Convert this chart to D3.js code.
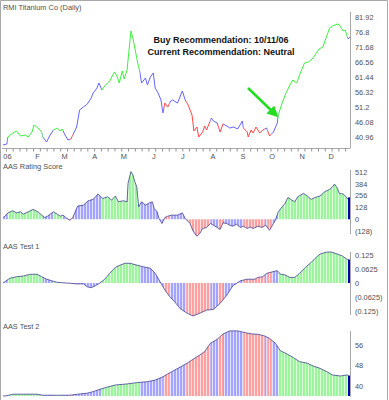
<!DOCTYPE html>
<html>
<head>
<meta charset="utf-8">
<script src="https://cdn.jsdelivr.net/npm/d3@7"></script>
<style>
body { margin: 0; background: #fff; }
svg  { display: block; font-family: "Liberation Sans", Arial, sans-serif; }
</style>
</head>
<body>
<div id="chart"></div>
<script>
////////////////////////////////////////////////////////////////////////
//
// data -- days are counted from Jan 1 2006
//
////////////////////////////////////////////////////////////////////////
var priceDays = [-2, 2, 3, 8, 12, 16, 21, 24, 28, 30, 34, 38, 39, 43, 46, 50, 54, 57, 59, 62,
                 65, 68, 70, 74, 77, 81, 85, 89, 91, 95, 97, 100, 103, 108, 113, 116, 118, 121, 123, 126,
                 127, 130, 132, 135, 137, 139, 141, 145, 147, 150, 153, 155, 158, 161, 163, 165, 168, 171, 173, 178,
                 183, 186, 189, 193, 195, 198, 200, 204, 206, 208, 213, 215, 219, 222, 225, 229, 232, 236, 240, 245,
                 246, 250, 251, 254, 256, 259, 263, 266, 270, 273, 277, 281, 282, 286, 290, 294, 297, 301, 304, 309,
                 313, 317, 320, 324, 328, 332, 335, 338, 343, 345, 349, 351, 354, 356];
var priceVals = [38.23, 38.57, 40.96, 42.33, 43.01, 41.30, 41.64, 40.96, 42.67, 45.06, 44.03, 42.67, 40.96, 39.25, 41.30, 43.35, 44.03, 43.01, 43.69, 41.64,
                 39.94, 40.28, 41.64, 44.37, 50.18, 51.20, 52.22, 54.27, 55.98, 57.68, 59.39, 57.00, 58.37, 60.07, 63.15, 61.44, 59.39, 63.49, 60.76, 63.83,
                 67.24, 77.14, 74.75, 69.63, 66.22, 63.49, 59.39, 61.10, 58.71, 61.44, 62.80, 57.68, 55.98, 53.59, 49.15, 52.56, 51.20, 53.25, 53.59, 52.56,
                 56.66, 53.59, 51.88, 48.47, 43.01, 44.37, 40.96, 42.67, 44.71, 43.35, 47.44, 46.42, 45.74, 42.67, 45.40, 44.71, 44.03, 44.37, 43.69, 46.42,
                 44.03, 42.67, 40.96, 43.35, 42.33, 44.37, 42.33, 43.35, 44.03, 41.30, 42.67, 45.74, 48.47, 52.56, 55.98, 58.71, 60.42, 59.39, 62.12, 66.22,
                 66.56, 67.58, 68.95, 71.00, 71.68, 75.43, 78.16, 78.85, 79.53, 79.19, 77.14, 77.48, 74.41, 75.09];

var rateDays = [-2, 0, 3, 8, 12, 16, 19, 24, 29, 34, 38, 41, 44, 50, 54, 57, 60, 64, 67, 70,
                75, 81, 86, 91, 96, 101, 106, 110, 114, 117, 122, 126, 127, 130, 132, 134, 136, 138, 141, 145,
                148, 152, 154, 157, 159, 162, 165, 168, 172, 178, 183, 186, 191, 194, 198, 201, 204, 208, 212, 215,
                219, 222, 225, 229, 232, 235, 239, 243, 246, 250, 253, 256, 261, 265, 269, 273, 277, 279, 282, 286,
                289, 292, 296, 299, 302, 308, 312, 316, 320, 325, 330, 335, 338, 340, 343, 345, 349, 352, 354, 356];
var rateVals = [18, 33, 69, 91, 69, 80, 55, 80, 106, 80, 44, 18, 33, 80, 55, 33, 44, 8, -11, 18,
                142, 153, 200, 215, 273, 225, 243, 207, 251, 189, 200, 189, 389, 516, 480, 407, 352, 134, 189, 153,
                171, 189, 117, 80, 8, -47, 18, 33, 44, 44, 69, 8, -47, -127, -185, -156, -101, -90, -47, -65,
                -90, -112, -40, -47, -65, -76, -55, -90, -76, -101, -84, -101, -76, -90, -65, -120, -47, -11, 80, 134,
                171, 236, 207, 189, 243, 280, 251, 215, 236, 251, 298, 324, 352, 381, 335, 280, 273, 243, 215, 236];

var test1Days = [-2, 0, 5, 12, 19, 26, 33, 38, 43, 49, 54, 60, 67, 74, 81, 85, 89, 93, 98, 103,
                 108, 114, 119, 124, 129, 136, 142, 150, 155, 160, 165, 170, 175, 181, 188, 194, 201, 208, 215, 222,
                 229, 235, 243, 250, 258, 261, 266, 270, 276, 281, 284, 289, 294, 299, 304, 310, 315, 320, 325, 332,
                 337, 343, 348, 353, 356];
var test1Vals = [0, 0.006, 0.021, 0.028, 0.031, 0.039, 0.039, 0.028, 0.017, 0.009, 0.003, 0.001, -0.001, -0.004, -0.004, -0.017, -0.021, -0.013, 0, 0.017,
                 0.043, 0.070, 0.080, 0.088, 0.088, 0.080, 0.073, 0.066, 0.043, 0.006, -0.031, -0.061, -0.083, -0.115, -0.135, -0.147, -0.135, -0.121, -0.118, -0.091,
                 -0.054, -0.013, 0.010, 0.017, 0.017, 0.025, 0.028, 0.043, 0.050, 0.055, 0.040, 0.036, 0.025, 0.025, 0.043, 0.070, 0.088, 0.110, 0.129, 0.138,
                 0.138, 0.129, 0.121, 0.106, 0.103];

var test2Days = [-2, 2, 8, 19, 33, 39, 54, 67, 75, 85, 91, 98, 105, 114, 126, 136, 147, 155, 163, 172,
                 181, 188, 194, 201, 206, 212, 219, 225, 232, 240, 248, 255, 261, 268, 273, 279, 284, 291, 297, 304,
                 312, 318, 325, 332, 338, 346, 353, 356];
var test2Vals = [36.1, 36.2, 36.8, 36.8, 36.8, 36.4, 36.4, 36.4, 36.8, 37.2, 37.8, 38.7, 39.5, 40.4, 40.8, 41.3, 41.7, 42.3, 43.6, 45.6,
                 47.4, 48.9, 50.4, 52.1, 53.4, 56.7, 58.2, 60.3, 61.5, 61.5, 60.8, 60.3, 60.2, 59.5, 58.6, 56.7, 53.8, 52.5, 51.2, 49.5,
                 48.9, 47.8, 46.9, 45.6, 44.3, 43.9, 44.3, 43.9];

// recommendation state: G = buy, B = neutral, R = sell
var signalDays = [-2, 3, 39, 50, 60, 66, 70, 100, 139, 163, 170, 187, 212, 220, 225, 246, 268, 271, 275, 282, 354];
var signalKeys = ["B", "G", "B", "G", "B", "R", "B", "G", "B", "R", "B", "R", "B", "R", "B", "R", "B", "R", "B", "G", "B"];

var priceTicks  = [81.92, 76.8, 71.68, 66.56, 61.44, 56.32, 51.2, 46.08, 40.96];
var priceLabels = ["81.92", "76.8", "71.68", "66.56", "61.44", "56.32", "51.2", "46.08", "40.96"];
var rateTicks   = [512, 384, 256, 128, 0, -128];
var rateLabels  = ["512", "384", "256", "128", "0", "(128)"];
var test1Ticks  = [0.125, 0.0625, 0, -0.0625, -0.125];
var test1Labels = ["0.125", "0.0625", "0", "(0.0625)", "(0.125)"];
var test2Ticks  = [56, 48, 40];
var test2Labels = ["56", "48", "40"];

var lineColor = {G: "#3cf03c", B: "#6464ff", R: "#ff4646"};
var barColor  = {G: "#9cf49c", B: "#a4a4ff", R: "#ffa0a0"};
var gapColor  = {G: "#dcfcdc", B: "#e0e0ff", R: "#ffe0e0"};


////////////////////////////////////////////////////////////////////////
//
// helpers
//
////////////////////////////////////////////////////////////////////////
var jan1 = new Date(2006, 0, 1);
function toDate(d)
    {
    return d3.timeDay.offset(jan1, d);
    }

function zip(days, vals)
    {
    return days.map(function(d, i) { return {date: toDate(d), v: vals[i]}; });
    }

var W = 389, H = 400;
var svg = d3.select("#chart").append("svg").attr("width", W).attr("height", H);

var x = d3.scaleTime()
    .domain([new Date(2005, 11, 30), new Date(2006, 11, 23)])
    .range([3, 350]);

var defs = svg.append("defs");

//stripes for the bars
Object.keys(barColor).forEach(function(k)
    {
    var p = defs.append("pattern")
        .attr("id", "pat" + k)
        .attr("patternUnits", "userSpaceOnUse")
        .attr("width", 3).attr("height", 10);
    p.append("rect").attr("width", 3).attr("height", 10).attr("fill", gapColor[k]);
    p.append("rect").attr("width", 2).attr("height", 10).attr("fill", barColor[k]);
    });

//one clip per recommendation segment
signalDays.forEach(function(d, i)
    {
    var x0 = i === 0 ? 0 : x(toDate(d));
    var x1 = i === signalDays.length - 1 ? W : x(toDate(signalDays[i + 1]));
    defs.append("clipPath").attr("id", "seg" + i)
        .append("rect").attr("x", x0).attr("y", 0).attr("width", x1 - x0).attr("height", H);
    });

function rightAxis(scale, ticks, labels, top, bottom)
    {
    svg.append("line")
        .attr("x1", 350.5).attr("x2", 350.5).attr("y1", top).attr("y2", bottom)
        .attr("stroke", "#a8a8a8");

    var g = svg.append("g")
        .attr("transform", "translate(351,0)")
        .call(d3.axisRight(scale).tickValues(ticks).tickSize(0).tickPadding(4)
            .tickFormat(function(d, i) { return labels[i]; }));
    g.select(".domain").remove();
    g.selectAll("text").attr("fill", "#505050").style("font-size", "7.4px").style("font-family", "Liberation Sans, Arial, sans-serif");
    }

function label(txt, y)
    {
    svg.append("text").attr("x", 3).attr("y", y).attr("dy", "0.35em")
        .attr("fill", "#505050").style("font-size", "7.4px").text(txt);
    }

function drawIndicator(data, y, baseY, ticks, labels, top, bottom, title, titleY)
    {
    var area = d3.area()
        .x(function(d) { return x(d.date); })
        .y0(baseY)
        .y1(function(d) { return y(d.v); });

    signalKeys.forEach(function(k, i)
        {
        svg.append("path")
            .datum(data)
            .attr("d", area)
            .attr("fill", "url(#pat" + k + ")")
            .attr("clip-path", "url(#seg" + i + ")");
        });

    svg.append("path")
        .datum(data)
        .attr("d", d3.line().x(function(d) { return x(d.date); }).y(function(d) { return y(d.v); }))
        .attr("fill", "none")
        .attr("stroke", "#3a3a8c")
        .attr("stroke-opacity", 0.85)
        .attr("stroke-width", 0.9);

    //last bar shown dark
    var last = data[data.length - 1];
    svg.append("line")
        .attr("x1", x(last.date) - 1).attr("x2", x(last.date) - 1)
        .attr("y1", baseY).attr("y2", y(last.v))
        .attr("stroke", "#0000b0").attr("stroke-width", 2);

    rightAxis(y, ticks, labels, top, bottom);
    label(title, titleY);
    }


////////////////////////////////////////////////////////////////////////
//
// frame
//
////////////////////////////////////////////////////////////////////////
svg.append("path")
    .attr("d", "M0.5," + H + "V0.5H387.5V" + H)
    .attr("fill", "none")
    .attr("stroke", "#a8a8a8");


////////////////////////////////////////////////////////////////////////
//
// price panel
//
////////////////////////////////////////////////////////////////////////
var yPrice = d3.scaleLinear().domain([40.96, 81.92]).range([137, 17]);
var priceData = zip(priceDays, priceVals);

var priceLine = d3.line()
    .x(function(d) { return x(d.date); })
    .y(function(d) { return yPrice(d.v); });

signalKeys.forEach(function(k, i)
    {
    svg.append("path")
        .datum(priceData)
        .attr("d", priceLine)
        .attr("fill", "none")
        .attr("stroke", lineColor[k])
        .attr("stroke-width", 1)
        .attr("clip-path", "url(#seg" + i + ")");
    });

rightAxis(yPrice, priceTicks, priceLabels, 12, 148);
label("RMI Titanium Co (Daily)", 7);

//date axis
svg.append("line").attr("x1", 2).attr("x2", 350.5).attr("y1", 148.5).attr("y2", 148.5).attr("stroke", "#a8a8a8");

var weekAxis = svg.append("g")
    .attr("transform", "translate(0,148.5)")
    .call(d3.axisBottom(x).ticks(d3.timeMonday.every(1)).tickSize(3).tickFormat(""));
weekAxis.select(".domain").remove();
weekAxis.selectAll("line").attr("stroke", "#909090");

var months = d3.timeMonth.range(new Date(2006, 0, 1), new Date(2006, 11, 2));
var monthAxis = svg.append("g")
    .attr("transform", "translate(2,148.5)")
    .call(d3.axisBottom(x).tickValues(months).tickSize(0).tickPadding(5)
        .tickFormat(function(d) { return d.getMonth() === 0 ? "06" : d3.timeFormat("%b")(d).charAt(0); }));
monthAxis.select(".domain").remove();
monthAxis.selectAll("text").attr("fill", "#505050").style("font-size", "7.4px").style("font-family", "Liberation Sans, Arial, sans-serif");

//recommendation note
var note = svg.append("g").style("font-size", "9px").style("font-weight", "bold").attr("fill", "#111");
note.append("text").attr("x", 221).attr("y", 43).attr("text-anchor", "middle").text("Buy Recommendation: 10/11/06");
note.append("text").attr("x", 221).attr("y", 54.5).attr("text-anchor", "middle").text("Current Recommendation: Neutral");

//arrow to the buy point
defs.append("marker")
    .attr("id", "arrowHead")
    .attr("viewBox", "0 0 10 10")
    .attr("refX", 7).attr("refY", 5)
    .attr("markerWidth", 4.5).attr("markerHeight", 4.5)
    .attr("orient", "auto")
    .append("path").attr("d", "M0,0L10,5L0,10z").attr("fill", "#22dd22");

svg.append("line")
    .attr("x1", 248).attr("y1", 88).attr("x2", 276).attr("y2", 115)
    .attr("stroke", "#22dd22").attr("stroke-width", 2.5)
    .attr("marker-end", "url(#arrowHead)");


////////////////////////////////////////////////////////////////////////
//
// indicator panels
//
////////////////////////////////////////////////////////////////////////
var yRate = d3.scaleLinear().domain([-128, 512]).range([231, 172]);
drawIndicator(zip(rateDays, rateVals), yRate, yRate(0), rateTicks, rateLabels, 170, 234, "AAS Rating Score", 166);

var yTest1 = d3.scaleLinear().domain([-0.125, 0.125]).range([311, 255]);
drawIndicator(zip(test1Days, test1Vals), yTest1, yTest1(0), test1Ticks, test1Labels, 252, 315, "AAS Test 1", 246);

var yTest2 = d3.scaleLinear().domain([40, 56]).range([386, 345]);
drawIndicator(zip(test2Days, test2Vals), yTest2, 396, test2Ticks, test2Labels, 331, 397, "AAS Test 2", 326);
</script>
</body>
</html>
